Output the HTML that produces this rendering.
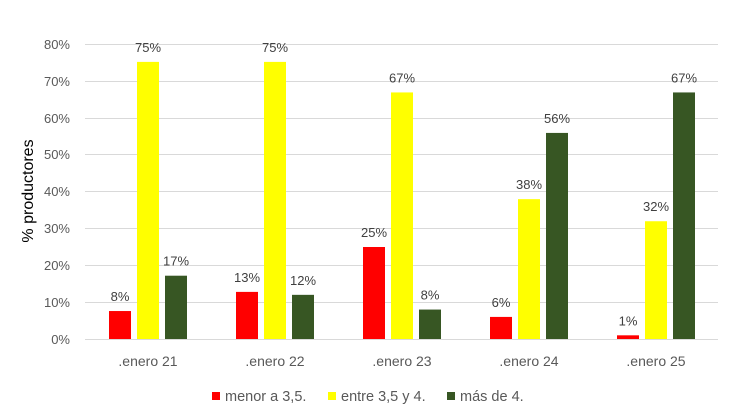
<!DOCTYPE html>
<html><head><meta charset="utf-8"><style>
html,body{margin:0;padding:0;background:#fff;}
svg{display:block;font-family:"Liberation Sans",sans-serif;}
</style></head><body>
<svg width="730" height="420" viewBox="0 0 730 420" xmlns="http://www.w3.org/2000/svg">
<g stroke="#d9d9d9" stroke-width="1">
<line x1="85" x2="718" y1="44.5" y2="44.5"/>
<line x1="85" x2="718" y1="81.5" y2="81.5"/>
<line x1="85" x2="718" y1="118.5" y2="118.5"/>
<line x1="85" x2="718" y1="154.5" y2="154.5"/>
<line x1="85" x2="718" y1="191.5" y2="191.5"/>
<line x1="85" x2="718" y1="228.5" y2="228.5"/>
<line x1="85" x2="718" y1="265.5" y2="265.5"/>
<line x1="85" x2="718" y1="302.5" y2="302.5"/>
<line x1="85" x2="718" y1="339.5" y2="339.5"/>
</g>
<g fill="#595959" font-size="13" text-anchor="end">
<text x="70" y="49">80%</text><text x="70" y="86">70%</text><text x="70" y="123">60%</text>
<text x="70" y="159">50%</text><text x="70" y="196">40%</text><text x="70" y="233">30%</text>
<text x="70" y="270">20%</text><text x="70" y="307">10%</text><text x="70" y="344">0%</text>
</g>
<text transform="translate(33,191) rotate(-90)" font-size="16" fill="#000" text-anchor="middle">% productores</text>
<g id="bars"></g>
<g fill="#404040" font-size="13" text-anchor="middle" id="lbls"></g>
<g fill="#595959" font-size="14" text-anchor="middle">
<text x="148" y="366">.enero 21</text><text x="275" y="366">.enero 22</text>
<text x="402" y="366">.enero 23</text><text x="529" y="366">.enero 24</text><text x="656" y="366">.enero 25</text>
</g>
<g font-size="14.5" fill="#595959">
<rect x="212" y="392" width="8" height="8" fill="#ff0000"/><text x="225" y="401">menor a 3,5.</text>
<rect x="328" y="392" width="8" height="8" fill="#ffff00"/><text x="341" y="401">entre 3,5 y 4.</text>
<rect x="447" y="392" width="8" height="8" fill="#375623"/><text x="460" y="401">más de 4.</text>
</g>
<script>
var d=[[7.6,75.3,17.2],[12.8,75.3,12],[25,67,8],[6,38,56],[1,32,67]];
var lb=[["8%","75%","17%"],["13%","75%","12%"],["25%","67%","8%"],["6%","38%","56%"],["1%","32%","67%"]];
var c=["#ff0000","#ffff00","#375623"];var ns="http://www.w3.org/2000/svg";
var B=document.getElementById("bars"),L=document.getElementById("lbls");
for(var g=0;g<5;g++)for(var s=0;s<3;s++){var x=109+g*127+s*28,h=d[g][s]*3.68,y=339-h;
var r=document.createElementNS(ns,"rect");r.setAttribute("x",x);r.setAttribute("y",y);r.setAttribute("width",22);r.setAttribute("height",h);r.setAttribute("fill",c[s]);B.appendChild(r);
var t=document.createElementNS(ns,"text");t.setAttribute("x",x+11);t.setAttribute("y",y-10);t.textContent=lb[g][s];L.appendChild(t);}
</script>
</svg>
</body></html>
